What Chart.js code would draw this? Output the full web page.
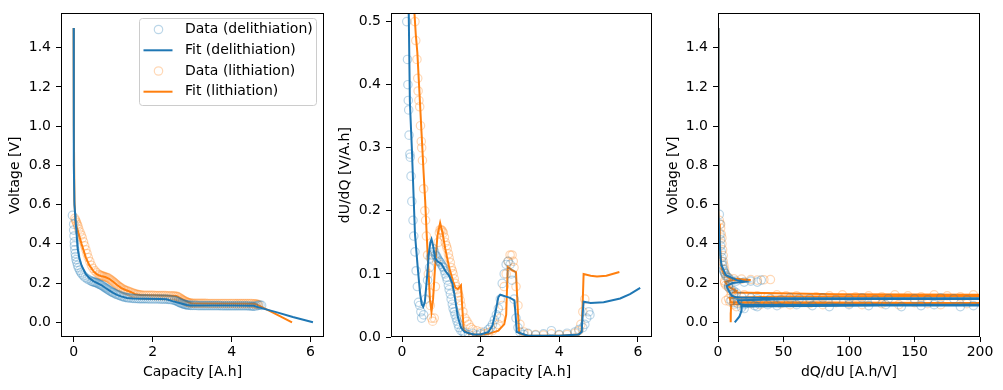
<!DOCTYPE html>
<html>
<head>
<meta charset="utf-8">
<script src="https://cdn.jsdelivr.net/npm/chart.js@4/dist/chart.umd.min.js"></script>
<style>
  html, body { margin: 0; padding: 0; background: #fff; }
  #wrap { position: relative; width: 1003px; height: 390px; }
  canvas { position: absolute; top: 0; }
</style>
</head>
<body>
<div id="wrap">
  <canvas id="volt" width="330" height="390" style="left:0"></canvas>
  <canvas id="dudq" width="330" height="390" style="left:330px"></canvas>
  <canvas id="dqdu" width="343" height="390" style="left:660px"></canvas>
</div>
<script>
// panel 1: voltage vs capacity  [capacity A.h, voltage V]
const delithData = [[-0.03,0.545],[0.0,0.5],[0.0,0.47],[0.01,0.44],[0.02,0.41],[0.02,0.39],[0.03,0.37],[0.04,0.35],[0.05,0.335],[0.06,0.32],[0.08,0.305],[0.1,0.29],[0.12,0.278],[0.15,0.265],[0.18,0.255],[0.21,0.246],[0.25,0.237],[0.29,0.229],[0.34,0.222],[0.39,0.216],[0.44,0.211],[0.47,0.208],[0.5,0.206],[0.53,0.204],[0.56,0.202],[0.59,0.2],[0.62,0.197],[0.65,0.194],[0.68,0.191],[0.71,0.188],[0.74,0.184],[0.77,0.18],[0.8,0.176],[0.83,0.172],[0.86,0.168],[0.89,0.164],[0.92,0.16],[0.95,0.156],[0.98,0.153],[1.01,0.15],[1.05,0.146],[1.08,0.143],[1.12,0.14],[1.16,0.137],[1.2,0.134],[1.24,0.131],[1.28,0.129],[1.32,0.127],[1.36,0.125],[1.4,0.124],[1.45,0.123],[1.5,0.122],[1.55,0.121],[1.6,0.121],[1.65,0.12],[1.7,0.12],[1.75,0.12],[1.8,0.12],[1.85,0.12],[1.9,0.119],[1.95,0.119],[2.0,0.119],[2.05,0.119],[2.1,0.119],[2.15,0.119],[2.2,0.118],[2.25,0.118],[2.3,0.118],[2.35,0.118],[2.4,0.117],[2.45,0.116],[2.5,0.114],[2.55,0.112],[2.59,0.11],[2.62,0.107],[2.65,0.104],[2.68,0.101],[2.71,0.098],[2.74,0.096],[2.77,0.094],[2.8,0.092],[2.83,0.09],[2.86,0.089],[2.89,0.088],[2.92,0.087],[2.96,0.086],[3.0,0.086],[3.05,0.086],[3.1,0.086],[3.15,0.085],[3.2,0.085],[3.25,0.085],[3.3,0.085],[3.35,0.085],[3.4,0.085],[3.45,0.085],[3.5,0.085],[3.55,0.085],[3.6,0.085],[3.65,0.085],[3.7,0.085],[3.75,0.084],[3.8,0.084],[3.85,0.084],[3.9,0.084],[3.95,0.084],[4.0,0.084],[4.05,0.084],[4.1,0.084],[4.15,0.084],[4.2,0.084],[4.25,0.084],[4.3,0.084],[4.35,0.084],[4.4,0.084],[4.45,0.083],[4.5,0.083],[4.54,0.082],[4.57,0.082],[4.62,0.083],[4.67,0.086],[4.72,0.088],[4.76,0.086]];
const delithFit = [[0,1.5],[0.005,0.8],[0.02,0.6],[0.05,0.52],[0.1,0.38],[0.14,0.33],[0.2,0.29],[0.31,0.245],[0.4,0.225],[0.5,0.21],[0.6,0.2],[0.7,0.19],[0.8,0.176],[0.9,0.163],[1.0,0.15],[1.1,0.14],[1.2,0.132],[1.35,0.124],[1.5,0.121],[1.8,0.12],[2.2,0.119],[2.35,0.117],[2.5,0.108],[2.7,0.097],[2.87,0.088],[2.95,0.086],[3.2,0.085],[4.0,0.085],[4.57,0.084],[4.62,0.08],[5.13,0.052],[5.55,0.027],[6.06,0.0]];
const lithData = [[0.03,0.53],[0.05,0.52],[0.07,0.51],[0.09,0.5],[0.11,0.49],[0.13,0.475],[0.16,0.46],[0.19,0.445],[0.22,0.43],[0.25,0.41],[0.28,0.39],[0.31,0.37],[0.34,0.35],[0.37,0.33],[0.41,0.31],[0.45,0.29],[0.49,0.275],[0.54,0.262],[0.59,0.252],[0.64,0.244],[0.67,0.241],[0.7,0.238],[0.73,0.236],[0.76,0.234],[0.79,0.232],[0.82,0.23],[0.85,0.228],[0.88,0.225],[0.91,0.221],[0.94,0.217],[0.97,0.212],[1.0,0.207],[1.03,0.202],[1.06,0.197],[1.09,0.192],[1.12,0.187],[1.15,0.182],[1.18,0.178],[1.21,0.174],[1.25,0.17],[1.28,0.166],[1.32,0.163],[1.36,0.16],[1.4,0.157],[1.44,0.154],[1.48,0.151],[1.52,0.148],[1.56,0.145],[1.6,0.143],[1.64,0.141],[1.68,0.14],[1.72,0.139],[1.77,0.138],[1.82,0.138],[1.87,0.137],[1.92,0.137],[1.97,0.137],[2.02,0.137],[2.07,0.136],[2.12,0.136],[2.17,0.136],[2.22,0.136],[2.27,0.136],[2.32,0.136],[2.37,0.135],[2.42,0.135],[2.47,0.135],[2.52,0.135],[2.56,0.134],[2.6,0.133],[2.63,0.131],[2.66,0.128],[2.69,0.124],[2.72,0.12],[2.75,0.116],[2.78,0.112],[2.81,0.109],[2.84,0.106],[2.87,0.103],[2.9,0.101],[2.93,0.099],[2.97,0.098],[3.01,0.097],[3.05,0.097],[3.1,0.097],[3.15,0.097],[3.2,0.097],[3.25,0.097],[3.3,0.097],[3.35,0.097],[3.4,0.096],[3.45,0.096],[3.5,0.096],[3.55,0.096],[3.6,0.096],[3.65,0.096],[3.7,0.096],[3.75,0.096],[3.8,0.096],[3.85,0.096],[3.9,0.096],[3.95,0.096],[4.0,0.096],[4.05,0.096],[4.1,0.095],[4.15,0.095],[4.2,0.095],[4.25,0.095],[4.3,0.095],[4.35,0.095],[4.4,0.095],[4.45,0.095],[4.5,0.095],[4.55,0.094],[4.59,0.094],[4.62,0.093],[4.65,0.092],[4.68,0.09]];
const lithFit = [[0,1.5],[0.005,1.0],[0.02,0.62],[0.05,0.5],[0.1,0.47],[0.2,0.4],[0.31,0.33],[0.4,0.29],[0.52,0.256],[0.6,0.243],[0.69,0.236],[0.8,0.231],[0.9,0.222],[1.0,0.207],[1.1,0.19],[1.2,0.176],[1.3,0.166],[1.4,0.158],[1.5,0.15],[1.56,0.143],[1.7,0.139],[2.2,0.136],[2.6,0.134],[2.69,0.125],[2.8,0.113],[2.9,0.103],[2.98,0.097],[3.5,0.096],[4.57,0.094],[4.62,0.092],[5.0,0.054],[5.53,0.0]];

// panel 2: dU/dQ vs capacity  [capacity A.h, dU/dQ V/A.h]
const delithDudqData = [[0.12,0.5],[0.14,0.44],[0.15,0.4],[0.16,0.375],[0.17,0.36],[0.18,0.32],[0.2,0.29],[0.21,0.285],[0.23,0.255],[0.25,0.215],[0.28,0.185],[0.3,0.16],[0.33,0.135],[0.36,0.105],[0.39,0.08],[0.42,0.055],[0.45,0.05],[0.48,0.04],[0.5,0.03],[0.55,0.035],[0.6,0.06],[0.65,0.09],[0.7,0.11],[0.72,0.125],[0.75,0.13],[0.78,0.135],[0.8,0.14],[0.83,0.135],[0.85,0.13],[0.88,0.128],[0.9,0.125],[0.93,0.122],[0.95,0.12],[0.98,0.118],[1.0,0.115],[1.03,0.112],[1.05,0.11],[1.08,0.105],[1.1,0.1],[1.13,0.095],[1.15,0.09],[1.18,0.082],[1.2,0.075],[1.23,0.068],[1.25,0.06],[1.28,0.052],[1.3,0.045],[1.33,0.04],[1.35,0.035],[1.38,0.03],[1.4,0.025],[1.43,0.02],[1.45,0.015],[1.5,0.01],[1.55,0.008],[1.6,0.006],[1.7,0.004],[1.8,0.006],[1.9,0.003],[2.0,0.005],[2.1,0.008],[2.2,0.012],[2.25,0.015],[2.3,0.02],[2.35,0.027],[2.4,0.035],[2.45,0.045],[2.5,0.06],[2.55,0.085],[2.6,0.1],[2.65,0.115],[2.7,0.12],[2.75,0.115],[2.78,0.1],[2.8,0.09],[2.85,0.06],[2.9,0.03],[2.95,0.015],[3.0,0.008],[3.1,0.004],[3.2,0.006],[3.4,0.003],[3.6,0.005],[3.8,0.01],[4.0,0.004],[4.2,0.006],[4.4,0.008],[4.5,0.012],[4.6,0.015],[4.65,0.02],[4.7,0.03],[4.75,0.04],[4.78,0.035]];
const delithDudqFit = [[0.17,0.52],[0.2,0.373],[0.25,0.3],[0.33,0.163],[0.4,0.11],[0.46,0.069],[0.5,0.052],[0.54,0.048],[0.58,0.055],[0.63,0.09],[0.68,0.13],[0.72,0.15],[0.75,0.155],[0.79,0.145],[0.84,0.125],[0.9,0.12],[1.0,0.116],[1.1,0.105],[1.2,0.097],[1.28,0.085],[1.33,0.069],[1.42,0.032],[1.5,0.015],[1.59,0.008],[1.82,0.004],[2.0,0.004],[2.2,0.008],[2.3,0.018],[2.38,0.04],[2.45,0.063],[2.5,0.067],[2.65,0.064],[2.75,0.062],[2.86,0.058],[2.89,0.035],[2.92,0.008],[3.2,0.002],[4.0,0.002],[4.5,0.004],[4.57,0.008],[4.6,0.04],[4.62,0.056],[4.8,0.054],[5.13,0.055],[5.55,0.061],[5.8,0.068],[6.06,0.078]];
const lithDudqData = [[0.33,0.5],[0.35,0.47],[0.38,0.44],[0.4,0.41],[0.41,0.39],[0.43,0.375],[0.45,0.365],[0.47,0.335],[0.49,0.31],[0.5,0.3],[0.52,0.28],[0.55,0.235],[0.58,0.2],[0.6,0.185],[0.62,0.16],[0.65,0.13],[0.67,0.1],[0.7,0.07],[0.72,0.05],[0.75,0.03],[0.78,0.025],[0.82,0.03],[0.85,0.08],[0.88,0.12],[0.92,0.15],[0.95,0.165],[0.97,0.17],[1.0,0.17],[1.03,0.168],[1.05,0.165],[1.08,0.158],[1.1,0.15],[1.13,0.145],[1.15,0.14],[1.18,0.132],[1.2,0.125],[1.23,0.118],[1.25,0.11],[1.28,0.105],[1.3,0.1],[1.33,0.092],[1.35,0.085],[1.38,0.08],[1.4,0.075],[1.43,0.07],[1.45,0.065],[1.48,0.058],[1.5,0.05],[1.55,0.04],[1.6,0.03],[1.65,0.025],[1.7,0.02],[1.75,0.015],[1.8,0.012],[1.9,0.01],[2.0,0.008],[2.1,0.005],[2.2,0.007],[2.3,0.01],[2.4,0.015],[2.45,0.02],[2.5,0.03],[2.55,0.05],[2.6,0.08],[2.65,0.1],[2.7,0.12],[2.75,0.13],[2.8,0.13],[2.83,0.12],[2.85,0.11],[2.9,0.08],[2.95,0.05],[3.0,0.02],[3.1,0.008],[3.2,0.005],[3.4,0.004],[3.6,0.003],[3.8,0.005],[4.0,0.003],[4.2,0.004],[4.4,0.006],[4.5,0.01],[4.55,0.02],[4.6,0.04],[4.65,0.06]];
const lithDudqFit = [[0.31,0.52],[0.35,0.48],[0.39,0.451],[0.45,0.38],[0.5,0.32],[0.55,0.26],[0.59,0.215],[0.63,0.16],[0.67,0.11],[0.71,0.06],[0.75,0.04],[0.79,0.06],[0.84,0.11],[0.9,0.16],[0.97,0.181],[1.03,0.165],[1.1,0.14],[1.2,0.11],[1.3,0.088],[1.36,0.078],[1.42,0.076],[1.5,0.082],[1.53,0.05],[1.57,0.011],[1.7,0.005],[1.9,0.003],[2.2,0.005],[2.45,0.01],[2.6,0.02],[2.65,0.035],[2.69,0.111],[2.8,0.106],[2.9,0.103],[2.94,0.05],[2.98,0.006],[3.2,0.002],[4.0,0.002],[4.5,0.004],[4.57,0.01],[4.6,0.06],[4.62,0.1],[4.8,0.097],[4.96,0.096],[5.2,0.097],[5.53,0.103]];

// panel 3: voltage vs dQ/dU  [dQ/dU A.h/V, voltage V]
const delithDqduData = [[1,0.55],[1.5,0.5],[1.5,0.45],[2,0.42],[2,0.39],[2.5,0.36],[3,0.33],[3,0.31],[3.5,0.29],[4,0.27],[4.5,0.26],[5,0.25],[6,0.24],[7,0.23],[8,0.225],[10,0.215],[14,0.21],[20,0.205],[25,0.21],[30,0.205],[33,0.215],[8,0.19],[8,0.18],[10,0.17],[12,0.16],[14,0.15],[12,0.14],[10,0.11],[18,0.13],[25,0.125],[30,0.12],[40,0.12],[48,0.115],[55,0.125],[62,0.12],[70,0.12],[80,0.125],[90,0.115],[100,0.12],[110,0.125],[120,0.115],[130,0.12],[150,0.12],[160,0.115],[170,0.125],[180,0.12],[190,0.115],[15,0.11],[12,0.1],[15,0.095],[20,0.09],[28,0.085],[30,0.08],[38,0.09],[45,0.085],[60,0.09],[72,0.085],[85,0.08],[100,0.09],[115,0.085],[128,0.09],[140,0.08],[155,0.085],[165,0.09],[185,0.08],[195,0.085],[18,0.075],[20,0.07]];
const delithDqduFit = [[0,1.5],[0.3,0.8],[0.5,0.55],[1,0.45],[1.9,0.33],[2.7,0.29],[6,0.24],[14.5,0.215],[21,0.207],[11,0.2],[6.5,0.185],[8.6,0.155],[10.5,0.135],[14.5,0.126],[45,0.123],[250,0.122],[330,0.12],[125,0.119],[55,0.118],[15,0.113],[16,0.098],[17.5,0.091],[250,0.089],[500,0.087],[125,0.085],[18,0.08],[18,0.06],[16.4,0.03],[12.8,0.0]];
const lithDqduData = [[1,0.52],[2,0.5],[2,0.48],[2.5,0.45],[3,0.43],[3,0.4],[3.5,0.37],[4,0.34],[4,0.31],[4.5,0.29],[5,0.27],[5.5,0.25],[6,0.235],[8,0.228],[12,0.222],[18,0.22],[25,0.218],[30,0.215],[35,0.217],[40,0.218],[5,0.21],[5,0.2],[6,0.19],[8,0.18],[9,0.17],[10,0.16],[12,0.15],[10,0.14],[20,0.14],[30,0.135],[38,0.13],[45,0.14],[52,0.135],[60,0.135],[75,0.13],[85,0.135],[95,0.14],[105,0.13],[115,0.135],[125,0.13],[135,0.14],[145,0.135],[155,0.13],[165,0.14],[175,0.135],[185,0.13],[195,0.14],[8,0.12],[6,0.11],[9,0.105],[15,0.1],[25,0.095],[32,0.09],[40,0.1],[48,0.095],[55,0.09],[70,0.095],[80,0.09],[90,0.1],[100,0.095],[110,0.09],[125,0.095],[138,0.09],[150,0.1],[160,0.095],[170,0.09],[190,0.095],[12,0.09],[14,0.08]];
const lithDqduFit = [[0,1.5],[0.3,1.0],[0.6,0.6],[0.9,0.5],[1.4,0.42],[1.9,0.34],[2.2,0.31],[3.1,0.27],[4.7,0.245],[9,0.225],[25,0.216],[9,0.213],[5.5,0.205],[7,0.19],[9,0.178],[12,0.167],[14,0.16],[12,0.152],[90,0.143],[330,0.138],[330,0.134],[200,0.133],[50,0.132],[9,0.125],[9.7,0.103],[166,0.098],[500,0.097],[500,0.094],[100,0.093],[10,0.092],[9.8,0.05],[9.7,0.0]];

const legendLabels = ['Data (delithiation)', 'Fit (delithiation)', 'Data (lithiation)', 'Fit (lithiation)'];

const BLUE = '#1f77b4';
const ORANGE = '#ff7f0e';
const BLUE_A = 'rgba(31,119,180,0.3)';
const ORANGE_A = 'rgba(255,127,14,0.3)';
const FONT = { family: 'DejaVu Sans', size: 14 };

Chart.defaults.color = '#000';
Chart.defaults.font.family = 'DejaVu Sans';

const xy = arr => arr.map(p => ({ x: p[0], y: p[1] }));

function markers(label, arr, color) {
  return {
    label, data: xy(arr), showLine: false,
    pointStyle: 'circle', pointRadius: 4.2, pointBorderWidth: 1.2,
    pointBackgroundColor: 'rgba(0,0,0,0)', pointBorderColor: color
  };
}
function fitLine(label, arr, color) {
  return {
    label, data: xy(arr), showLine: true, pointRadius: 0,
    borderColor: color, borderWidth: 2, fill: false, tension: 0
  };
}

function axis(min, max, ticks, fmt, title, size, isY, titlePad) {
  return {
    type: 'linear', min, max,
    afterBuildTicks: s => { s.ticks = ticks.map(v => ({ value: v })); },
    afterFit: s => { if (isY) s.width = size; else s.height = size; },
    grid: { display: true, drawOnChartArea: false, drawTicks: true, tickLength: 5, color: '#000', lineWidth: 1 },
    border: { display: false },
    ticks: { font: FONT, color: '#000', padding: isY ? 5 : 2, autoSkip: false, maxRotation: 0, callback: v => fmt(v) },
    title: { display: true, text: title, font: FONT, color: '#000', padding: titlePad }
  };
}

const frame = {
  id: 'frame',
  afterDatasetsDraw(chart) {
    const { ctx, chartArea: a } = chart;
    ctx.save();
    ctx.strokeStyle = '#000';
    ctx.lineWidth = 1;
    ctx.strokeRect(Math.round(a.left) + 0.5, Math.round(a.top) + 0.5, Math.round(a.right - a.left) - 1, Math.round(a.bottom - a.top) - 1);
    ctx.restore();
  }
};

// matplotlib-like legend box drawn in the upper right of the first panel
const boxLegend = {
  id: 'boxLegend',
  afterDraw(chart) {
    const ctx = chart.ctx;
    const colors = [BLUE, BLUE, ORANGE, ORANGE];
    const rows = [29.5, 50.3, 71, 91.7];
    ctx.save();
    ctx.beginPath();
    ctx.roundRect(139.5, 18.5, 177, 87, 3);
    ctx.fillStyle = 'rgba(255,255,255,0.8)';
    ctx.fill();
    ctx.strokeStyle = '#cccccc';
    ctx.lineWidth = 1;
    ctx.stroke();
    legendLabels.forEach((t, i) => {
      const y = rows[i];
      if (i % 2 === 0) {
        ctx.beginPath();
        ctx.arc(158.5, y, 4.2, 0, Math.PI * 2);
        ctx.strokeStyle = i === 0 ? BLUE_A : ORANGE_A;
        ctx.lineWidth = 1.2;
        ctx.stroke();
      } else {
        ctx.beginPath();
        ctx.moveTo(143.5, y);
        ctx.lineTo(172.5, y);
        ctx.strokeStyle = colors[i];
        ctx.lineWidth = 2;
        ctx.stroke();
      }
      ctx.fillStyle = '#000';
      ctx.font = '14px "DejaVu Sans"';
      ctx.textAlign = 'left';
      ctx.textBaseline = 'middle';
      ctx.fillText(t, 185, y);
    });
    ctx.restore();
  }
};

const f1 = v => v.toFixed(1);
const f0 = v => String(Math.round(v));
const voltTicks = [0, 0.2, 0.4, 0.6, 0.8, 1.0, 1.2, 1.4];

function makeChart(id, datasets, xAxis, yAxis, rightPad, plugins) {
  return new Chart(document.getElementById(id), {
    type: 'scatter',
    data: { datasets },
    options: {
      responsive: false, animation: false, events: [],
      layout: { padding: { top: 11, right: rightPad, bottom: 0, left: 0 } },
      plugins: { legend: { display: false }, tooltip: { enabled: false } },
      scales: { x: xAxis, y: yAxis }
    },
    plugins
  });
}

makeChart('volt', [
  markers(legendLabels[0], delithData, BLUE_A),
  fitLine(legendLabels[1], delithFit, BLUE),
  markers(legendLabels[2], lithData, ORANGE_A),
  fitLine(legendLabels[3], lithFit, ORANGE)
],
  axis(-0.32, 6.34, [0, 2, 4, 6], f0, 'Capacity [A.h]', 53, false, { top: 0, bottom: 9 }),
  axis(-0.075, 1.575, voltTicks, f1, 'Voltage [V]', 61, true, { top: 7, bottom: 0 }),
  6, [frame, boxLegend]);

makeChart('dudq', [
  markers(legendLabels[0], delithDudqData, BLUE_A),
  fitLine(legendLabels[1], delithDudqFit, BLUE),
  markers(legendLabels[2], lithDudqData, ORANGE_A),
  fitLine(legendLabels[3], lithDudqFit, ORANGE)
],
  axis(-0.28, 6.36, [0, 2, 4, 6], f0, 'Capacity [A.h]', 53, false, { top: 0, bottom: 9 }),
  axis(0, 0.513, [0, 0.1, 0.2, 0.3, 0.4, 0.5], f1, 'dU/dQ [V/A.h]', 61, true, { top: 7, bottom: 0 }),
  8, [frame]);

makeChart('dqdu', [
  markers(legendLabels[0], delithDqduData, BLUE_A),
  fitLine(legendLabels[1], delithDqduFit, BLUE),
  markers(legendLabels[2], lithDqduData, ORANGE_A),
  fitLine(legendLabels[3], lithDqduFit, ORANGE)
],
  axis(0, 200, [0, 50, 100, 150, 200], f0, 'dQ/dU [A.h/V]', 53, false, { top: 0, bottom: 9 }),
  axis(-0.075, 1.575, voltTicks, f1, 'Voltage [V]', 58, true, { top: 5, bottom: 0 }),
  23, [frame]);
</script>
</body>
</html>
